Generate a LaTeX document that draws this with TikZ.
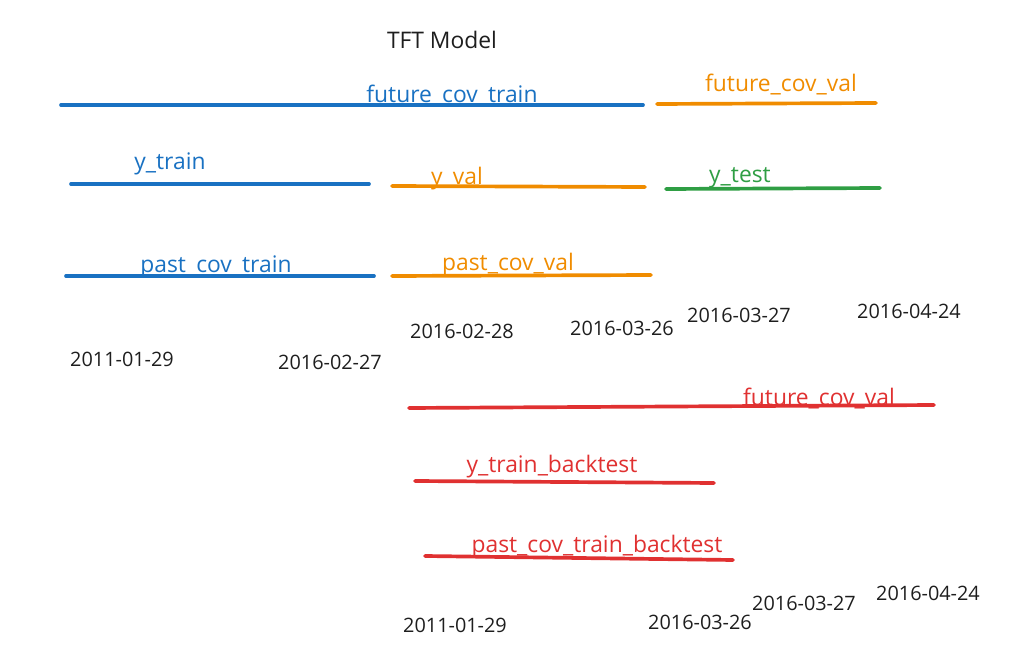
\documentclass[tikz,border=0pt]{standalone}
\usepackage{fontspec}
\setmainfont{Open Sans}
\definecolor{splitblue}{HTML}{1971C2}
\definecolor{splitorange}{HTML}{F08C00}
\definecolor{splitgreen}{HTML}{2F9E44}
\definecolor{splitred}{HTML}{E03131}
\definecolor{ink}{HTML}{1E1E1E}
\tikzset{
  span/.style={line width=2.1pt, line cap=round},
  lbl/.style={font=\fontsize{13}{15}\selectfont, inner sep=0pt},
  datelbl/.style={font=\fontsize{11.3}{13}\selectfont, text=ink, inner sep=0pt}
}
\begin{document}
\begin{tikzpicture}[x=0.02cm,y=-0.02cm]
\useasboundingbox (0,0) rectangle (1009,652);
\node[lbl, text=ink] (title) at (442,40) {TFT Model};
% validation split
\coordinate (fct1) at (61,105);
\coordinate (fct2) at (643,105);
\coordinate (fcv1) at (657,104);
\coordinate (fcv2) at (876,103);
\coordinate (ytr1) at (71,184);
\coordinate (ytr2) at (369,184);
\coordinate (yva1) at (392,186);
\coordinate (yva2) at (645,187);
\coordinate (yte1) at (666,189);
\coordinate (yte2) at (880,188);
\coordinate (pct1) at (66,276);
\coordinate (pct2) at (374,276);
\coordinate (pcv1) at (392,276);
\coordinate (pcv2) at (651,275);
\draw[span, splitblue] (fct1) -- (fct2);
\draw[span, splitorange] (fcv1) -- (fcv2);
\draw[span, splitblue] (ytr1) -- (ytr2);
\draw[span, splitorange] (yva1) -- (yva2);
\draw[span, splitgreen] (yte1) -- (yte2);
\draw[span, splitblue] (pct1) -- (pct2);
\draw[span, splitorange] (pcv1) -- (pcv2);
\node[lbl, text=splitblue] (fctlbl) at (452,96) {future\_cov\_train};
\node[lbl, text=splitorange] (fcvlbl) at (781,85) {future\_cov\_val};
\node[lbl, text=splitblue] (ytrlbl) at (170,164) {y\_train};
\node[lbl, text=splitorange] (yvalbl) at (457,179) {y\_val};
\node[lbl, text=splitgreen] (ytelbl) at (740,178) {y\_test};
\node[lbl, text=splitblue] (pctlbl) at (216,267) {past\_cov\_train};
\node[lbl, text=splitorange] (pcvlbl) at (508,265) {past\_cov\_val};
\node[datelbl] (d1) at (122,359) {2011-01-29};
\node[datelbl] (d2) at (330,362) {2016-02-27};
\node[datelbl] (d3) at (462,331) {2016-02-28};
\node[datelbl] (d4) at (622,328) {2016-03-26};
\node[datelbl] (d5) at (739,315) {2016-03-27};
\node[datelbl] (d6) at (909,311) {2016-04-24};
% backtest split
\coordinate (bfc1) at (409,408);
\coordinate (bfc2) at (934,405);
\coordinate (bytr1) at (415,481);
\coordinate (bytr2) at (714,483);
\coordinate (bpct1) at (425,556);
\coordinate (bpct2) at (733,560);
\draw[span, splitred] (bfc1) -- (bfc2);
\draw[span, splitred] (bytr1) -- (bytr2);
\draw[span, splitred] (bpct1) -- (bpct2);
\node[lbl, text=splitred] (bfclbl) at (819,399) {future\_cov\_val};
\node[lbl, text=splitred] (bytrlbl) at (552,467) {y\_train\_backtest};
\node[lbl, text=splitred] (bpctlbl) at (597,547) {past\_cov\_train\_backtest};
\node[datelbl] (b1) at (455,625) {2011-01-29};
\node[datelbl] (b2) at (700,622) {2016-03-26};
\node[datelbl] (b3) at (804,603) {2016-03-27};
\node[datelbl] (b4) at (928,593) {2016-04-24};
\end{tikzpicture}
\end{document}
